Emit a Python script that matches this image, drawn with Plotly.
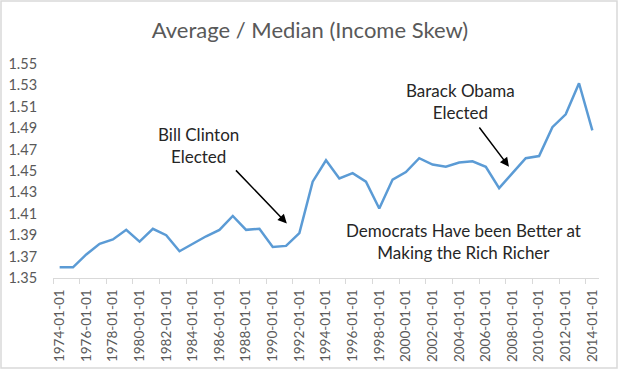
import plotly.graph_objects as go

years = list(range(1974, 2015))
skew = [1.360, 1.360, 1.372, 1.382, 1.386, 1.395, 1.384, 1.396, 1.390, 1.375,
        1.382, 1.389, 1.395, 1.408, 1.395, 1.396, 1.379, 1.380, 1.392, 1.440,
        1.460, 1.443, 1.448, 1.440, 1.415, 1.442, 1.449, 1.462, 1.456, 1.454,
        1.458, 1.459, 1.454, 1.434, 1.448, 1.462, 1.464, 1.491, 1.503, 1.532,
        1.488]
label_years = list(range(1974, 2015, 2))
tick_labels = [f"{y}-01-01" for y in label_years]
y_ticks = [1.35, 1.37, 1.39, 1.41, 1.43, 1.45, 1.47, 1.49, 1.51, 1.53, 1.55]

FONT = "Lato, Open Sans, sans-serif"
GRAY = "#595959"

fig = go.Figure(go.Scatter(
    x=years, y=skew, mode="lines",
    line=dict(color="#5b9bd5", width=2.5),
    hoverinfo="skip",
))

fig.update_layout(
    width=620, height=373,
    margin=dict(l=53, r=21, t=64, b=95),
    paper_bgcolor="white", plot_bgcolor="white",
    showlegend=False,
    font=dict(family=FONT, color=GRAY),
    title=dict(text="Average / Median (Income Skew)", x=0.5, xanchor="center",
               y=1 - 30 / 373, yanchor="middle", yref="container",
               font=dict(size=22, color=GRAY, family=FONT)),
    xaxis=dict(
        range=[1973.5, 2014.5], tickmode="array", tickvals=label_years,
        ticktext=tick_labels, tickangle=-90, ticks="",
        tickfont=dict(size=13.5, color=GRAY), ticklabelstandoff=5,
        showline=True, linecolor="#d9d9d9", linewidth=1,
        showgrid=False, zeroline=False, automargin=False,
        minor=dict(tickmode="array", tickvals=[y - 0.5 for y in label_years],
                   ticks="outside", ticklen=5, tickcolor="#d9d9d9", showgrid=False),
    ),
    yaxis=dict(
        range=[1.35, 1.55], tickmode="array", tickvals=y_ticks,
        ticktext=[f"{v:.2f}" for v in y_ticks],
        tickfont=dict(size=14.5, color=GRAY),
        ticks="outside", ticklen=12, tickcolor="rgba(0,0,0,0)",
        showline=False, showgrid=False, zeroline=False, automargin=False,
    ),
)

txt_font = dict(size=17, color="#262626", family=FONT)
fig.add_annotation(x=1984.4, y=1.474, xref="x", yref="y", text="Bill Clinton<br>Elected",
                   showarrow=False, font=txt_font, align="center")
fig.add_annotation(x=2004.1, y=1.515, xref="x", yref="y", text="Barack Obama<br>Elected",
                   showarrow=False, font=txt_font, align="center")
fig.add_annotation(x=2004.3, y=1.384, xref="x", yref="y",
                   text="Democrats Have been Better at<br>Making the Rich Richer",
                   showarrow=False, font=txt_font, align="center")
# arrows
fig.add_annotation(x=1991.06, y=1.401, ax=1987.13, ay=1.452, xref="x", yref="y",
                   axref="x", ayref="y", text="", showarrow=True,
                   arrowhead=2, arrowsize=1.2, arrowwidth=1.5, arrowcolor="black")
fig.add_annotation(x=2007.74, y=1.454, ax=2005.43, ay=1.492, xref="x", yref="y",
                   axref="x", ayref="y", text="", showarrow=True,
                   arrowhead=2, arrowsize=1.2, arrowwidth=1.5, arrowcolor="black")

# outer chart frame
pw, ph = 620 - 53 - 21, 373 - 64 - 95
fig.add_shape(type="rect", xref="paper", yref="paper",
              x0=(-53 + 1) / pw, x1=(617 - 53) / pw,
              y0=-(368 - 278) / ph, y1=1 + (64 - 1) / ph,
              line=dict(color="#d9d9d9", width=1.5), layer="below")

fig.write_html("out.html", config={"displayModeBar": False},
               post_script="document.body.style.margin='0';document.body.style.overflow='hidden';")
